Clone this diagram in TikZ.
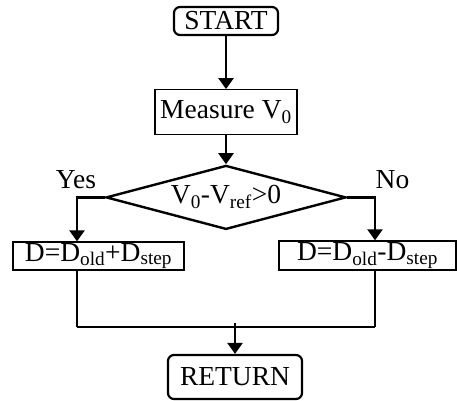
\documentclass[tikz,border=0pt]{standalone}
\usepackage{fontspec}
\setmainfont{Liberation Serif}
\usetikzlibrary{arrows.meta,positioning,shapes.geometric}

\begin{document}
\begin{tikzpicture}[x=1pt, y=1pt, every node/.style={font=\fontsize{27.5}{32}\selectfont, inner sep=0pt},
  term/.style={draw, line width=2.2pt, rounded corners=6pt, minimum width=104pt, minimum height=28pt},
  proc/.style={draw, line width=1.3pt, minimum height=28pt},
  cond/.style={draw, diamond, line width=2.4pt, aspect=3.75, minimum width=240pt, minimum height=64pt},
  arr/.style={line width=2.4pt, -{Triangle[width=15pt,length=11pt]}},
  link/.style={line width=2.4pt}]
\useasboundingbox (0,0) rectangle (457,400);
\node[term] (start) at (226,379) {START};
\node[proc, below=53pt of start, minimum width=142pt, minimum height=45pt, line width=1.1pt] (measure) {Measure V\textsubscript{0}};
\node[cond, below=29pt of measure] (test) {V\textsubscript{0}-V\textsubscript{ref}>0};
\node[proc, minimum width=171pt] (plus) at (98.5,144) {D=D\textsubscript{old}+D\textsubscript{step}};
\node[proc, minimum width=177pt, minimum height=29pt] (minus) at (367.5,144.5) {D=D\textsubscript{old}-D\textsubscript{step}};
\node[term, minimum width=134pt, minimum height=44pt] (ret) at (235,23) {RETURN};
\node[anchor=base] (yes) at (76,212) {Yes};
\node[anchor=base] (no) at (392.5,212) {No};
\coordinate (ml) at (77,73);
\coordinate (mr) at (375,73);
\draw[arr] (start) -- (measure);
\draw[arr] (measure) -- (test);
\draw[arr] (test.west) -- (test.west -| ml) -- (plus.north -| ml);
\draw[arr] (test.east) -- (test.east -| mr) -- (minus.north -| mr);
\draw[link] (plus.south -| ml) -- (ml);
\draw[link] (minus.south -| mr) -- (mr);
\draw[line width=1.1pt] (ml) -- (mr);
\draw[arr] ([yshift=4pt]ret.north |- ml) -- (ret);
\end{tikzpicture}
\end{document}
